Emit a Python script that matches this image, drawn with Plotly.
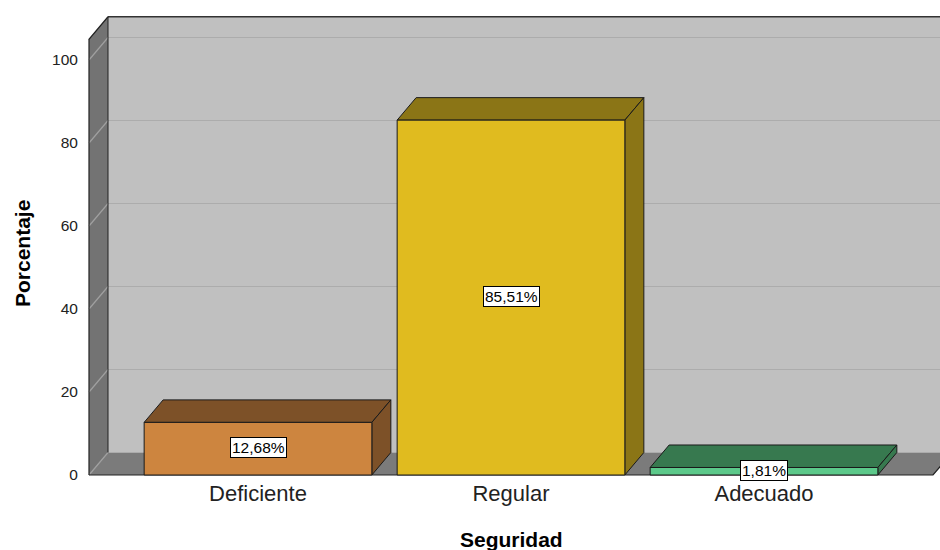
import plotly.graph_objects as go

# ---------------- data ----------------
categories = ["Deficiente", "Regular", "Adecuado"]
values = [12.68, 85.51, 1.81]
y_ticks = [0, 20, 40, 60, 80, 100]
x_title = "Seguridad"
y_title = "Porcentaje"

# ---------------- style ----------------
front_colors = ["#CD853F", "#E0BB1F", "#5CC98A"]
shade_colors = ["#7D5128", "#8B7516", "#37794F"]
WALL_BACK = "#C0C0C0"
WALL_SIDE = "#737373"
FLOOR = "#7B7B7B"
GRID_BACK = "#ACACAC"
GRID_SIDE = "#A0A0A0"
FONT = "Liberation Sans, Arial, sans-serif"

W, H = 940, 550
XS, YS = 253.0, 4.15          # pixels per category / per percent
ML, MR, MT, MB = 86, 0, 14, 72
X0PX, Y0PX, C0PX = 89, 475, 258
DX, DY = 19 / XS, 22.5 / YS   # 3D depth offset in data units
HALF = 0.45                   # half bar width
WALL_TOP = 105

n = len(categories)
x_left = (X0PX - C0PX) / XS
x_right = (n - 1) - x_left
x_far = x_right + DX + 0.2
x_range = [(ML - C0PX) / XS, (W - MR - C0PX) / XS]
y_range = [(Y0PX - (H - MB)) / YS, (Y0PX - MT) / YS]

fig = go.Figure()


def poly(xs, ys, fill=None, line="black", width=1, closed=True):
    if closed:
        xs = list(xs) + [xs[0]]
        ys = list(ys) + [ys[0]]
    fig.add_trace(go.Scatter(
        x=xs, y=ys, mode="lines",
        fill="toself" if fill else None,
        fillcolor=fill,
        line=dict(color=line, width=width),
        hoverinfo="skip", showlegend=False,
    ))


# back wall
poly([x_left + DX, x_far, x_far, x_left + DX],
     [DY, DY, WALL_TOP + DY, WALL_TOP + DY], fill=WALL_BACK, line=WALL_BACK, width=0)
# side wall
poly([x_left, x_left, x_left + DX, x_left + DX],
     [0, WALL_TOP, WALL_TOP + DY, DY], fill=WALL_SIDE, line=WALL_SIDE, width=0)
# floor
poly([x_left, x_right, x_right + DX, x_left + DX],
     [0, 0, DY, DY], fill=FLOOR, line=FLOOR, width=0)

# grid lines
for v in y_ticks:
    poly([x_left + DX, x_far], [v + DY, v + DY], line=GRID_BACK, width=1.2, closed=False)
    poly([x_left, x_left + DX], [v, v + DY], line=GRID_SIDE, width=1.2, closed=False)

# wall outlines
poly([x_left + DX, x_far], [WALL_TOP + DY, WALL_TOP + DY], line="#333333", width=1.5, closed=False)
poly([x_left + DX, x_left + DX], [DY, WALL_TOP + DY], line="#222222", width=1, closed=False)
poly([x_left + DX, x_left, x_left], [WALL_TOP + DY, WALL_TOP, 0], line="#222222", width=1.2, closed=False)
poly([x_left, x_right, x_right + DX], [0, 0, DY], line="#222222", width=1.2, closed=False)

# bars
for i, v in enumerate(values):
    xa, xb = i - HALF, i + HALF
    # top face
    poly([xa, xb, xb + DX, xa + DX], [v, v, v + DY, v + DY], fill=shade_colors[i], line="#1a1a1a", width=1)
    # side face
    poly([xb, xb + DX, xb + DX, xb], [0, DY, v + DY, v], fill=shade_colors[i], line="#1a1a1a", width=1)
    # front face
    poly([xa, xb, xb, xa], [0, 0, v, v], fill=front_colors[i], line="#1a1a1a", width=1)

annotations = []
for i, v in enumerate(values):
    annotations.append(dict(
        x=i, y=v / 2, xref="x", yref="y", yshift=1,
        text=f"{v:.2f}".replace(".", ",") + "%",
        showarrow=False,
        font=dict(family=FONT, size=15.5, color="black"),
        bgcolor="white", bordercolor="black", borderwidth=1, borderpad=1,
    ))

pw = W - ML - MR
ph = H - MT - MB
annotations.append(dict(
    x=(23 - ML) / pw, y=(H - MB - 254) / ph, xref="paper", yref="paper",
    text=f"<b>{y_title}</b>", textangle=-90, showarrow=False,
    font=dict(family=FONT, size=21, color="black"),
    xanchor="center", yanchor="middle",
))
annotations.append(dict(
    x=(511 - ML) / pw, y=(H - MB - 539) / ph, xref="paper", yref="paper",
    text=f"<b>{x_title}</b>", showarrow=False,
    font=dict(family=FONT, size=21, color="black"),
    xanchor="center", yanchor="middle",
))

fig.update_layout(
    width=W, height=H,
    margin=dict(l=ML, r=MR, t=MT, b=MB, pad=0),
    paper_bgcolor="white", plot_bgcolor="white",
    showlegend=False,
    annotations=annotations,
    xaxis=dict(
        range=x_range, tickvals=list(range(n)), ticktext=categories,
        showgrid=False, zeroline=False, showline=False,
        ticks="", ticklen=0,
        tickfont=dict(family=FONT, size=22, color="#222222"),
        fixedrange=True,
    ),
    yaxis=dict(
        range=y_range, tickvals=y_ticks,
        showgrid=False, zeroline=False, showline=False,
        ticks="outside", ticklen=4, tickcolor="rgba(0,0,0,0)",
        tickfont=dict(family=FONT, size=15.5, color="#222222"),
        fixedrange=True,
    ),
)

fig.write_html("out.html")
